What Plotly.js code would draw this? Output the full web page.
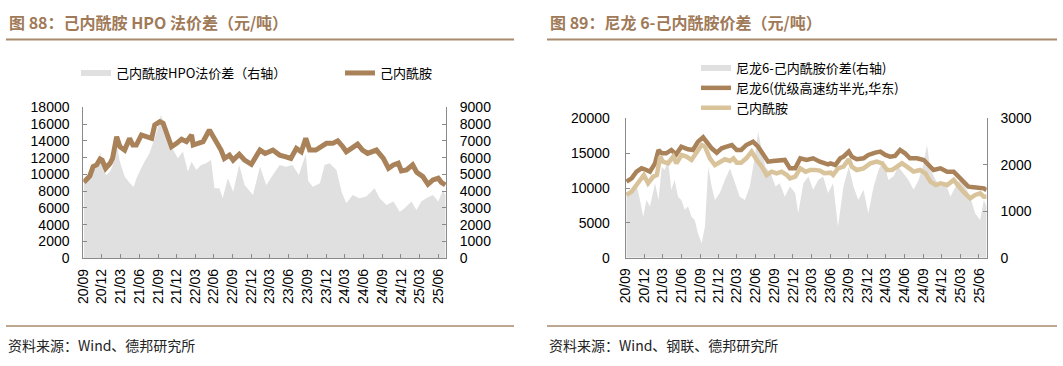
<!DOCTYPE html>
<html><head><meta charset="utf-8">
<script src="https://cdn.plot.ly/plotly-3.0.1.min.js"></script>
<style>html,body{margin:0;padding:0;background:#fff}#chart{width:1063px;height:366px}</style>
</head><body><div id="chart"></div>
<script>
// ---------- tick labels (shared) ----------
const tickDates = ['2020-09-01','2020-12-01','2021-03-01','2021-06-01','2021-09-01','2021-12-01','2022-03-01','2022-06-01','2022-09-01','2022-12-01','2023-03-01','2023-06-01','2023-09-01','2023-12-01','2024-03-01','2024-06-01','2024-09-01','2024-12-01','2025-03-01','2025-06-01'];
const tickLabels = ['20/09','20/12','21/03','21/06','21/09','21/12','22/03','22/06','22/09','22/12','23/03','23/06','23/09','23/12','24/03','24/06','24/09','24/12','25/03','25/06'];

// ---------- Figure 88: caprolactam price (left axis) ----------
const capDatesL = ['2020-09-04','2020-10-03','2020-10-19','2020-11-05','2020-11-22','2020-12-02','2020-12-19','2021-01-10','2021-01-22','2021-02-03','2021-02-11','2021-02-27','2021-03-22','2021-04-15','2021-05-01','2021-05-18','2021-06-12','2021-07-06','2021-08-01','2021-08-16','2021-09-10','2021-09-26','2021-10-12','2021-11-06','2021-12-01','2021-12-25','2022-01-18','2022-02-12','2022-02-20','2022-03-22','2022-04-09','2022-05-10','2022-06-12','2022-07-06','2022-07-22','2022-08-16','2022-09-03','2022-10-03','2022-10-29','2022-12-01','2023-01-12','2023-02-06','2023-03-16','2023-04-18','2023-05-19','2023-06-12','2023-07-09','2023-08-02','2023-08-24','2023-09-12','2023-10-12','2023-11-09','2023-12-03','2024-01-03','2024-01-27','2024-02-21','2024-03-09','2024-04-03','2024-05-03','2024-05-27','2024-06-21','2024-08-03','2024-09-06','2024-10-01','2024-10-25','2024-11-18','2024-12-03','2024-12-28','2025-01-27','2025-02-16','2025-03-18','2025-04-12','2025-05-06','2025-06-01','2025-06-16','2025-07-06'];
const capPriceL = [9060,9816,10930,11130,11840,11720,10730,11330,11920,14100,14500,13300,12900,14300,13500,13500,14700,14500,14300,15900,16300,16100,14900,13300,13700,14200,13900,14700,13500,13700,13900,15300,13900,12900,11900,12300,11700,12400,11700,11200,12900,12500,12900,12300,12100,11900,13100,12700,14300,12900,12900,13300,13700,13700,14000,13300,12700,13100,13600,12900,12500,12900,11900,10730,11130,11330,10410,10530,11130,10250,9740,8820,9340,9540,9060,8740];

// ---------- Figure 88: HPO spread (right axis) ----------
const hpoDates = ['2020-09-04','2020-10-01','2020-10-19','2020-11-15','2020-11-25','2020-12-10','2020-12-22','2021-01-10','2021-01-25','2021-02-05','2021-02-15','2021-02-27','2021-03-22','2021-04-15','2021-05-05','2021-05-20','2021-06-03','2021-06-27','2021-07-21','2021-08-16','2021-09-05','2021-09-15','2021-09-26','2021-10-10','2021-10-20','2021-11-13','2021-12-07','2021-12-31','2022-01-25','2022-02-12','2022-03-07','2022-03-31','2022-04-24','2022-05-18','2022-06-04','2022-06-28','2022-07-14','2022-08-08','2022-09-03','2022-10-03','2022-10-29','2022-12-09','2023-01-12','2023-02-12','2023-03-16','2023-04-18','2023-05-19','2023-06-20','2023-07-21','2023-08-24','2023-09-05','2023-09-27','2023-11-01','2023-11-24','2023-12-18','2024-01-21','2024-02-15','2024-03-09','2024-04-09','2024-05-12','2024-06-15','2024-07-25','2024-08-19','2024-09-21','2024-10-25','2024-11-25','2024-12-19','2025-01-21','2025-02-15','2025-03-10','2025-04-04','2025-05-06','2025-06-01','2025-06-25','2025-07-06'];
const hpoSpread = [4500,4700,5460,5800,6300,5200,4970,5170,5600,7300,6500,5760,4870,4500,4250,4800,5170,5760,6260,7150,8000,8540,8200,7600,7200,6500,5960,6360,5170,5760,5270,5560,5660,5860,4170,4170,3580,4770,3970,5560,4370,3780,5460,4370,4970,5560,5460,5560,4970,6200,4600,4270,4470,5560,5660,5270,3970,3280,3780,3580,3680,4170,3580,3180,3380,2780,2980,3380,2880,3380,3580,3780,3380,4070,3780];

// ---------- Figure 89: nylon 6 price (left axis) ----------
const nylonDates = ['2020-09-05','2020-09-30','2020-10-24','2020-11-18','2020-12-12','2020-12-29','2021-01-23','2021-02-09','2021-02-25','2021-03-19','2021-04-13','2021-05-07','2021-06-01','2021-07-04','2021-07-28','2021-08-22','2021-09-16','2021-10-03','2021-10-28','2021-11-22','2021-12-16','2022-01-10','2022-02-04','2022-02-28','2022-03-22','2022-04-16','2022-05-19','2022-06-13','2022-07-07','2022-08-01','2022-08-25','2022-09-27','2022-10-22','2022-11-16','2022-12-12','2023-01-06','2023-02-06','2023-03-10','2023-04-12','2023-05-22','2023-06-04','2023-06-27','2023-07-21','2023-08-06','2023-09-01','2023-09-16','2023-10-10','2023-11-12','2023-12-06','2024-01-09','2024-02-03','2024-02-27','2024-03-22','2024-04-15','2024-05-10','2024-06-03','2024-06-27','2024-08-01','2024-09-03','2024-09-27','2024-10-21','2024-11-24','2024-12-27','2025-01-28','2025-02-21','2025-03-16','2025-04-10','2025-05-06','2025-06-01','2025-06-25','2025-07-08'];
const nylonPrice = [10910,11390,12345,12820,12585,12345,13540,15455,14980,14980,15455,14830,15930,15550,15455,16650,17275,16650,15690,15070,15690,15930,16170,15455,15455,16170,16650,15930,14980,13780,13880,14020,14020,12820,12820,14260,14020,14260,13780,13400,13540,13300,14260,14500,15220,14500,14120,14260,14740,15070,15220,14740,14500,14600,15455,14980,14260,14260,14020,13300,12585,12820,12345,12345,11630,11150,10190,10100,10100,9950,9710];

// ---------- Figure 89: caprolactam price (left axis) ----------
const capDatesR = ['2020-09-05','2020-09-30','2020-10-24','2020-11-18','2020-11-29','2020-12-20','2021-01-14','2021-02-01','2021-02-17','2021-03-03','2021-03-28','2021-04-22','2021-05-08','2021-06-02','2021-06-26','2021-07-21','2021-08-15','2021-09-09','2021-09-25','2021-10-19','2021-11-13','2021-12-07','2022-01-01','2022-01-26','2022-02-12','2022-02-28','2022-03-22','2022-04-16','2022-05-12','2022-06-06','2022-07-01','2022-07-25','2022-08-19','2022-09-12','2022-10-06','2022-11-01','2022-11-16','2022-12-12','2023-01-06','2023-02-01','2023-02-25','2023-03-19','2023-04-12','2023-05-04','2023-06-04','2023-06-16','2023-07-10','2023-08-06','2023-09-01','2023-09-16','2023-10-10','2023-11-12','2023-12-16','2024-01-16','2024-02-12','2024-03-07','2024-04-01','2024-04-25','2024-05-19','2024-06-12','2024-07-15','2024-08-16','2024-09-11','2024-10-06','2024-11-01','2024-11-24','2024-12-27','2025-01-28','2025-02-21','2025-03-16','2025-04-19','2025-05-13','2025-06-07','2025-06-25','2025-07-08'];
const capPriceR = [9000,9475,10430,11390,11870,10670,11630,11870,14500,13780,13540,14500,13540,14740,14500,14020,15220,16170,15930,14260,13300,13780,14120,13880,14260,13640,13640,14260,15220,14020,13060,11870,12345,12110,12345,11870,11390,11630,12820,12345,12585,12600,12500,12110,12200,11870,12820,13060,14120,13060,12585,12820,13540,13780,13540,12585,12585,13060,13540,13060,12345,12585,12110,10910,10430,10670,10430,11150,10190,9475,8520,9000,9235,8760,8760];

// ---------- Figure 89: nylon 6 - caprolactam spread (right axis) ----------
const spreadDatesR = ['2020-09-05','2020-09-30','2020-10-24','2020-11-10','2020-11-26','2020-12-12','2020-12-29','2021-01-23','2021-02-09','2021-02-25','2021-03-11','2021-03-28','2021-04-13','2021-04-29','2021-05-16','2021-06-01','2021-06-18','2021-07-04','2021-07-21','2021-08-06','2021-08-22','2021-09-09','2021-09-25','2021-10-11','2021-10-28','2021-11-13','2021-12-07','2022-01-01','2022-01-26','2022-02-20','2022-03-15','2022-04-09','2022-05-03','2022-05-28','2022-06-13','2022-07-01','2022-07-19','2022-08-13','2022-09-07','2022-09-27','2022-10-22','2022-11-16','2022-12-12','2022-12-27','2023-01-21','2023-02-15','2023-03-10','2023-04-04','2023-04-28','2023-05-22','2023-06-16','2023-07-10','2023-08-06','2023-09-01','2023-09-24','2023-10-18','2023-11-12','2023-12-06','2024-01-01','2024-01-25','2024-02-19','2024-03-13','2024-04-07','2024-05-01','2024-05-26','2024-06-20','2024-07-15','2024-08-09','2024-09-03','2024-09-19','2024-10-06','2024-11-01','2024-11-24','2024-12-19','2025-01-12','2025-02-06','2025-03-01','2025-03-25','2025-04-19','2025-05-13','2025-06-07','2025-06-25','2025-07-08'];
const spreadR = [1350,1460,1565,1240,880,1240,1100,1600,1240,1960,1890,2100,1460,1670,1310,1240,1030,1100,880,810,520,310,670,1960,1530,1240,1390,1670,1920,1600,1310,1240,1530,2170,2710,2320,1960,1815,1530,1600,1310,1530,1390,955,1600,1745,1460,1670,1745,1390,1600,670,1530,1960,1530,1240,1460,955,1530,1890,2100,1670,1745,1960,1815,1670,1460,1670,2030,2430,1890,1670,1530,1600,1310,1530,1670,1530,1310,955,810,1240,1100];

// ---------- styling ----------
const W = 1063, H = 366;
const BROWN = '#A98259', TAN = '#D9C39B', GREY = '#E0E0E0', AXIS = '#8a8a8a';
const FONT = '"Liberation Sans", Arial, "Noto Sans CJK SC", sans-serif';
const CJK = '"Noto Sans CJK SC", "Liberation Sans", sans-serif';
const px = v => v / W, py = v => 1 - v / H;
const xRange = ['2020-09-01', '2025-07-09'];

const axisBase = {
  showline: true, linecolor: AXIS, linewidth: 1, ticks: 'inside', ticklen: 4, tickcolor: AXIS,
  showgrid: false, zeroline: false, tickfont: {family: FONT, size: 14, color: '#000'}, fixedrange: true
};
const yBase = Object.assign({}, axisBase, {tickformat: 'd', tick0: 0});
const xBase = Object.assign({}, axisBase, {type: 'date', range: xRange, tickvals: tickDates, ticktext: tickLabels, tickangle: -90, ticklabelstandoff: 4});

const traces = [
  {x: hpoDates, y: hpoSpread, type: 'scatter', mode: 'none', fill: 'tozeroy', fillcolor: GREY,
   name: '己内酰胺HPO法价差（右轴）', xaxis: 'x', yaxis: 'y', legend: 'legend'},
  {x: capDatesL, y: capPriceL, type: 'scatter', mode: 'lines', line: {color: BROWN, width: 5},
   name: '己内酰胺', xaxis: 'x', yaxis: 'y2', legend: 'legend'},
  {x: spreadDatesR, y: spreadR, type: 'scatter', mode: 'none', fill: 'tozeroy', fillcolor: GREY,
   name: '尼龙6-己内酰胺价差(右轴)', xaxis: 'x2', yaxis: 'y3', legend: 'legend2'},
  {x: nylonDates, y: nylonPrice, type: 'scatter', mode: 'lines', line: {color: BROWN, width: 4.5},
   name: '尼龙6(优级高速纺半光,华东)', xaxis: 'x2', yaxis: 'y4', legend: 'legend2'},
  {x: capDatesR, y: capPriceR, type: 'scatter', mode: 'lines', line: {color: TAN, width: 4.5},
   name: '己内酰胺', xaxis: 'x2', yaxis: 'y4', legend: 'legend2'}
];

const layout = {
  width: W, height: H, margin: {l: 0, r: 0, t: 0, b: 0},
  paper_bgcolor: '#fff', plot_bgcolor: 'rgba(0,0,0,0)',
  font: {family: FONT, size: 14, color: '#000'},
  xaxis: Object.assign({}, xBase, {domain: [px(83.3), px(446)], anchor: 'y'}),
  yaxis: Object.assign({}, yBase, {domain: [py(258.3), py(107.3)], anchor: 'x', side: 'right', range: [0, 9000], dtick: 1000, ticklabelstandoff: 10}),
  yaxis2: Object.assign({}, yBase, {domain: [py(258.3), py(107.3)], anchor: 'x', overlaying: 'y', side: 'left', range: [0, 18000], dtick: 2000, ticklabelstandoff: 10}),
  xaxis2: Object.assign({}, xBase, {domain: [px(625.7), px(986.7)], anchor: 'y3'}),
  yaxis3: Object.assign({}, yBase, {domain: [py(257.7), py(118.3)], anchor: 'x2', side: 'right', range: [0, 3000], dtick: 1000, ticklabelstandoff: 10}),
  yaxis4: Object.assign({}, yBase, {domain: [py(257.7), py(118.3)], anchor: 'x2', overlaying: 'y3', side: 'left', range: [0, 20000], dtick: 5000, ticklabelstandoff: 12}),
  showlegend: true,
  legend: {orientation: 'h', x: px(76), y: py(58), xanchor: 'left', yanchor: 'top', bgcolor: 'rgba(0,0,0,0)',
           font: {family: CJK, size: 13, color: '#000'}, entrywidth: 219, entrywidthmode: 'pixels', traceorder: 'normal'},
  legend2: {orientation: 'v', x: px(696), y: py(53), xanchor: 'left', yanchor: 'top', bgcolor: 'rgba(0,0,0,0)',
            font: {family: CJK, size: 13, color: '#000'}, traceorder: 'normal', tracegroupgap: 0},
  shapes: [
    {type: 'line', xref: 'paper', yref: 'paper', x0: px(6), x1: px(514), y0: py(39.5), y1: py(39.5), line: {color: '#A98A6C', width: 2}},
    {type: 'line', xref: 'paper', yref: 'paper', x0: px(547), x1: px(1057), y0: py(39.5), y1: py(39.5), line: {color: '#A98A6C', width: 2}},
    {type: 'line', xref: 'paper', yref: 'paper', x0: px(6), x1: px(514), y0: py(326), y1: py(326), line: {color: '#A98A6C', width: 1.5}},
    {type: 'line', xref: 'paper', yref: 'paper', x0: px(547), x1: px(1057), y0: py(326), y1: py(326), line: {color: '#A98A6C', width: 1.5}}
  ],
  annotations: [
    {text: '<b>图 88：己内酰胺 HPO 法价差（元/吨）</b>', xref: 'paper', yref: 'paper', x: px(7), y: py(22), xanchor: 'left', yanchor: 'middle', showarrow: false, font: {family: CJK, size: 16, color: '#A07A58'}},
    {text: '<b>图 89：尼龙 6-己内酰胺价差（元/吨）</b>', xref: 'paper', yref: 'paper', x: px(548), y: py(22), xanchor: 'left', yanchor: 'middle', showarrow: false, font: {family: CJK, size: 16, color: '#A07A58'}},
    {text: '资料来源：Wind、德邦研究所', xref: 'paper', yref: 'paper', x: px(6), y: py(345), xanchor: 'left', yanchor: 'middle', showarrow: false, font: {family: CJK, size: 14, color: '#222'}},
    {text: '资料来源：Wind、钢联、德邦研究所', xref: 'paper', yref: 'paper', x: px(547), y: py(345), xanchor: 'left', yanchor: 'middle', showarrow: false, font: {family: CJK, size: 14, color: '#222'}}
  ]
};

Plotly.newPlot('chart', traces, layout, {displayModeBar: false, staticPlot: true});
</script>
</body></html>
